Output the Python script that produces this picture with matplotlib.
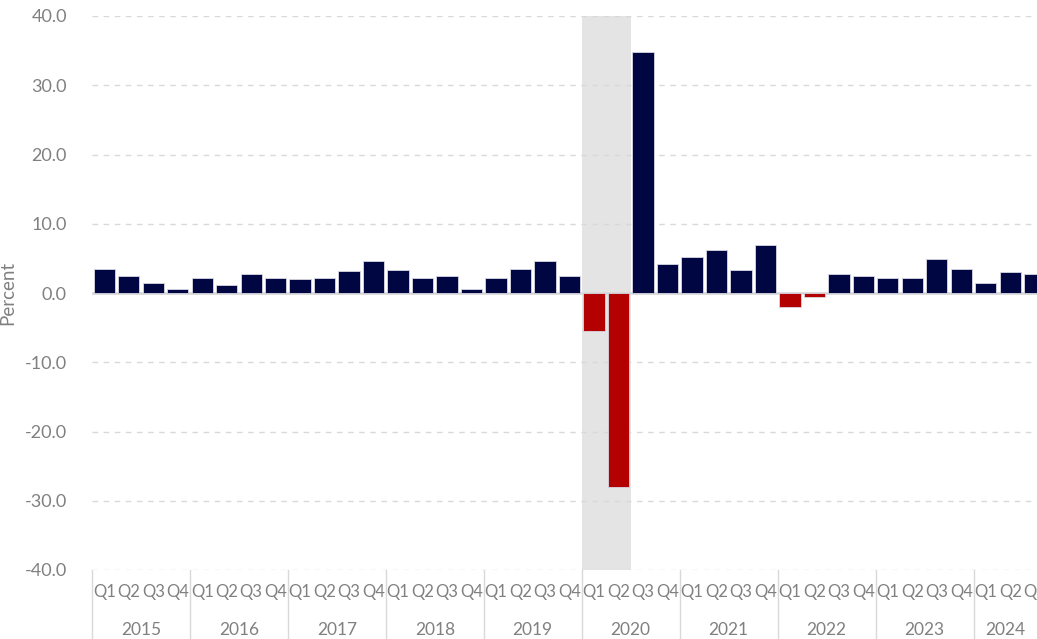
import matplotlib
matplotlib.use("Agg")
import matplotlib.pyplot as plt
import matplotlib.transforms as mtransforms

plt.rcParams['font.family'] = ['Lato', 'DejaVu Sans']

# данные: квартальный рост, %
years = ['2015', '2016', '2017', '2018', '2019', '2020', '2021', '2022', '2023', '2024']
quarters = ['Q1', 'Q2', 'Q3', 'Q4']
values = [
    3.5, 2.5, 1.5, 0.6,
    2.2, 1.2, 2.8, 2.2,
    2.0, 2.2, 3.2, 4.6,
    3.3, 2.1, 2.5, 0.6,
    2.2, 3.4, 4.6, 2.5,
    -5.5, -28.0, 34.8, 4.2,
    5.2, 6.2, 3.3, 7.0,
    -2.0, -0.6, 2.7, 2.5,
    2.2, 2.1, 4.9, 3.4,
    1.5, 3.0, 2.8,
]
recession = (20, 21)  # 2020 Q1 - Q2

navy = '#000641'
red = '#b30000'
grey_txt = '#808080'
grid_col = '#d9d9d9'

fig = plt.figure(figsize=(10.37, 6.39), dpi=100)
ax = fig.add_axes([92 / 1037, 69 / 639, 955 / 1037, 554 / 639])

n = len(values)
x = list(range(n))
colors = [navy if v >= 0 else red for v in values]

ax.set_xlim(-0.5, n - 0.5)
ax.set_ylim(-40, 40)

# затенение рецессии
ax.axvspan(recession[0] - 0.5, recession[1] + 0.5, color='#e4e4e4', zorder=0, lw=0)

ax.set_yticks(range(-40, 41, 10))
ax.set_yticklabels([f'{t:.1f}' for t in range(-40, 41, 10)])
ax.grid(axis='y', color=grid_col, ls=(0, (4, 4)), lw=1, zorder=0.5)
ax.axhline(0, color=grid_col, lw=2, zorder=1)

ax.bar(x, values, width=0.87, color=colors, edgecolor='#d8d8e4', linewidth=0.6, zorder=2)

for s in ax.spines.values():
    s.set_visible(False)
ax.tick_params(axis='y', length=0, labelsize=13, labelcolor=grey_txt, pad=18)
ax.tick_params(axis='x', length=0)
ax.set_xticks([])

ax.set_ylabel('Percent', color=grey_txt, fontsize=13.5)
ax.yaxis.set_label_coords(-0.079, 0.5)

# подписи по оси x: кварталы и годы
trans = mtransforms.blended_transform_factory(ax.transData, ax.transAxes)
for i in range(n):
    ax.text(i, -0.04, quarters[i % 4], transform=trans, ha='center', va='center',
            fontsize=12, color=grey_txt, clip_on=False)
for j, yr in enumerate(years):
    start = j * 4
    end = min(start + 4, n)
    # последний год обрезан краем рисунка: центр по видимой части
    mid = (start + end - 1) / 2 if end - start == 4 else start + 0.8
    ax.text(mid, -0.109, yr, transform=trans, ha='center', va='center',
            fontsize=12.5, color=grey_txt, clip_on=False)
    ax.plot([start - 0.5, start - 0.5], [0, -0.2], transform=trans, color=grid_col,
            lw=1, clip_on=False)

fig.savefig('out.png', dpi=100)
